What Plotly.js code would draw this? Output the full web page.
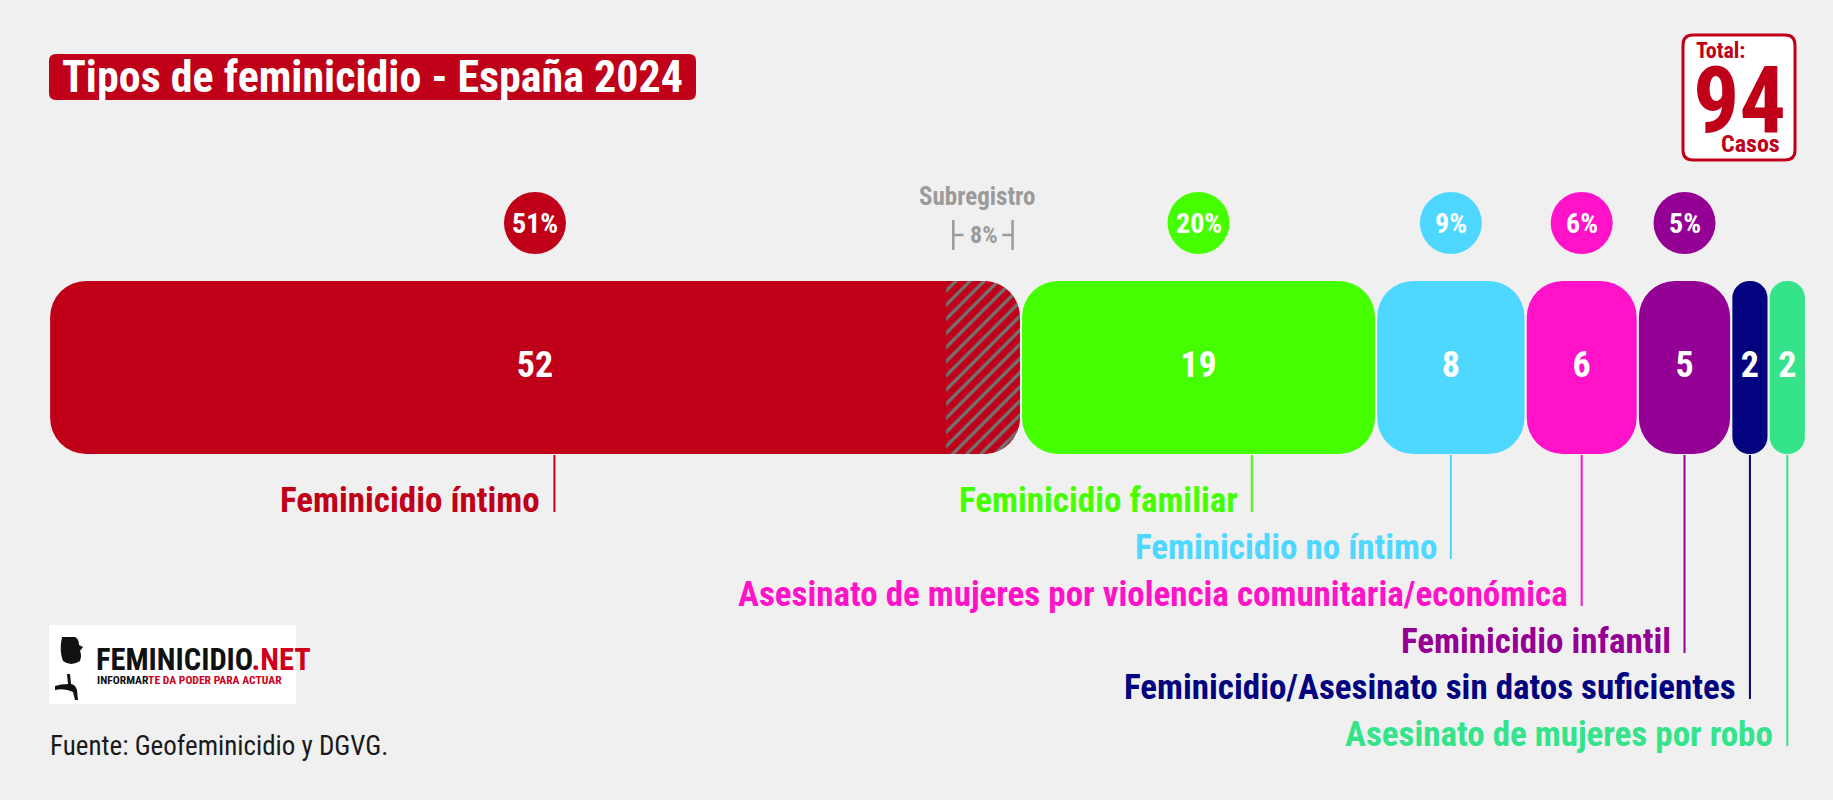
<!DOCTYPE html>
<html><head><meta charset="utf-8">
<script src="https://cdn.plot.ly/plotly-3.0.1.min.js"></script>
<style>html,body{margin:0;padding:0;background:#f0f0f0;}</style>
</head><body><div id="chart" style="width:1833px;height:800px;"></div>
<script>
// ---------- DATA ----------
const categories = ['Feminicidio íntimo', 'Feminicidio familiar', 'Feminicidio no íntimo',
  'Asesinato de mujeres por violencia comunitaria/económica', 'Feminicidio infantil',
  'Feminicidio/Asesinato sin datos suficientes', 'Asesinato de mujeres por robo'];
const values = [52, 19, 8, 6, 5, 2, 2];
const percents = [51, 20, 9, 6, 5, null, null];
const subregistroCount = 4;      // hatched part of "Feminicidio íntimo"
const subregistroPct = 8;
const total = 94;
const chartTitle = 'Tipos de feminicidio - España 2024';
const subregistroLabel = 'Subregistro';
const sourceText = 'Fuente: Geofeminicidio y DGVG.';

// ---------- STYLE ----------
const colors = ['#c00018', '#45ff00', '#4fd8ff', '#ff12c8', '#930093', '#03037f', '#35e38b'];
const leaderFrac = [0.52, 0.65, 0.5, 0.5, 0.5, 0.5, 0.5];
const labelRowPx = [500, 500, 547, 594, 641, 687, 734];
const W = 1833, H = 800;
const PLOT_L = 49, PLOT_R = 1806;
const BAR_TOP = 281, BAR_BOT = 454;
const COND = '"Roboto Condensed", "Open Sans", sans-serif';
const GAP = 0.06, RMAX = 36;
const pxPerUnit = (PLOT_R - PLOT_L) / total;
const unit = BAR_BOT - BAR_TOP;
const ymax = ((BAR_TOP + BAR_BOT) / 2) / unit;
const ymin = ymax - H / unit;
const px = x => x / W;
const py = y => 1 - y / H;

// ---------- TRACES ----------
const traces = [];
const starts = [];
let acc = 0;
values.forEach(v => { starts.push(acc); acc += v; });

values.forEach((v, i) => {
  const len = v - 2 * GAP;
  const r = Math.min(RMAX, (len * pxPerUnit) / 2 - 0.5);
  traces.push({type: 'bar', orientation: 'h', y: [0], x: [len], base: [starts[i] + GAP], width: [1],
    marker: {color: colors[i], cornerradius: r, line: {width: 0}},
    hoverinfo: 'skip', showlegend: false});
});

// hatched "subregistro" part, on an axis whose zero sits where the hatch begins
const split = starts[0] + values[0] - subregistroCount;
traces.push({type: 'bar', orientation: 'h', xaxis: 'x2', y: [0], x: [subregistroCount - GAP], width: [1],
  marker: {color: colors[0], cornerradius: RMAX, line: {width: 0},
    pattern: {shape: '/', bgcolor: colors[0], fgcolor: '#727272', size: 10, solidity: 0.33}},
  hoverinfo: 'skip', showlegend: false});

// numbers inside bars
const textX = [], textT = [];
values.forEach((v, i) => { textX.push(starts[i] + v / 2); textT.push(String(v)); });
textX.push(split + subregistroCount / 2); textT.push(String(subregistroCount));
traces.push({type: 'scatter', mode: 'text', x: textX, y: textX.map(() => 0), text: textT,
  textposition: 'middle center', cliponaxis: false, hoverinfo: 'skip', showlegend: false,
  textfont: {family: COND, size: 36, color: '#ffffff', weight: 'bold'}});

// ---------- SHAPES & ANNOTATIONS ----------
const shapes = [], ann = [];

function roundRect(cx, cy, w, h, r, fill, line) {
  const a = w / 2, b = h / 2;
  const p = `M ${-a + r},${-b} L ${a - r},${-b} Q ${a},${-b} ${a},${-b + r} L ${a},${b - r} Q ${a},${b} ${a - r},${b} ` +
    `L ${-a + r},${b} Q ${-a},${b} ${-a},${b - r} L ${-a},${-b + r} Q ${-a},${-b} ${-a + r},${-b} Z`;
  shapes.push({type: 'path', xref: 'paper', yref: 'paper', xsizemode: 'pixel', ysizemode: 'pixel',
    xanchor: px(cx), yanchor: py(cy), path: p, fillcolor: fill,
    line: line || {width: 0}, layer: 'below'});
}
function text(x, y, t, size, color, opts) {
  ann.push(Object.assign({xref: 'paper', yref: 'paper', x: px(x), y: py(y), text: t, showarrow: false,
    xanchor: 'center', yanchor: 'middle',
    font: {family: COND, size: size, color: color, weight: 'bold'}}, opts || {}));
}

// title box
roundRect(372.5, 77, 647, 46, 7, colors[0]);
text(372.5, 77, chartTitle, 44, '#ffffff');

// total box
roundRect(1739, 97.5, 112, 125, 10, '#ffffff', {color: colors[0], width: 3});
text(1720, 51, 'Total:', 22, colors[0]);
text(1739, 100, String(total), 92, colors[0]);
text(1750, 144, 'Casos', 24, colors[0]);

// percentage circles
percents.forEach((p, i) => {
  if (p === null) return;
  const cx = starts[i] + values[i] / 2;
  shapes.push({type: 'circle', xref: 'x', yref: 'paper', xsizemode: 'pixel', ysizemode: 'pixel',
    xanchor: cx, yanchor: py(223), x0: -31, x1: 31, y0: -31, y1: 31,
    fillcolor: colors[i], line: {width: 0}});
  ann.push({xref: 'x', yref: 'paper', x: cx, y: py(223), text: p + '%', showarrow: false,
    xanchor: 'center', yanchor: 'middle',
    font: {family: COND, size: 28, color: '#ffffff', weight: 'bold'}});
});

// subregistro bracket
const subE = starts[0] + values[0];
const subMid = (split + subE) / 2;
const gray = '#9b9b9b';
ann.push({xref: 'x', yref: 'paper', x: subMid, y: py(196), text: subregistroLabel, showarrow: false,
  xanchor: 'center', yanchor: 'middle', xshift: -7,
  font: {family: COND, size: 25, color: gray, weight: 'bold'}});
ann.push({xref: 'x', yref: 'paper', x: subMid, y: py(235), text: subregistroPct + '%', showarrow: false,
  xanchor: 'center', yanchor: 'middle', font: {family: COND, size: 24, color: gray, weight: 'bold'}});
const bl = split + 0.38, br = subE - 0.45;
[[bl, bl, 220, 250], [br, br, 220, 250], [bl, bl + 0.55, 235, 235], [br - 0.55, br, 235, 235]].forEach(c => {
  shapes.push({type: 'line', xref: 'x', yref: 'paper', x0: c[0], x1: c[1], y0: py(c[2]), y1: py(c[3]),
    line: {color: gray, width: 2.5}});
});

// leader lines and labels
categories.forEach((c, i) => {
  const lx = starts[i] + values[i] * leaderFrac[i];
  shapes.push({type: 'line', xref: 'x', yref: 'paper', x0: lx, x1: lx, y0: py(BAR_BOT + 1), y1: py(labelRowPx[i] + 12),
    line: {color: colors[i], width: 2}});
  ann.push({xref: 'x', yref: 'paper', x: lx, y: py(labelRowPx[i]), text: c, showarrow: false,
    xanchor: 'right', yanchor: 'middle', xshift: -12,
    font: {family: COND, size: 35, color: colors[i], weight: 'bold'}});
});

// logo block
shapes.push({type: 'rect', xref: 'paper', yref: 'paper', x0: px(49), x1: px(296), y0: py(625), y1: py(704),
  fillcolor: '#ffffff', line: {width: 0}, layer: 'below'});
shapes.push({type: 'path', xref: 'paper', yref: 'paper', xsizemode: 'pixel', ysizemode: 'pixel',
  xanchor: px(71), yanchor: py(651),
  path: 'M -9,14 Q -12,0 -8,-10 Q 0,-16 9,-10 Q 11,-4 9,0 L 12,4 L 8,6 Q 8,12 4,14 Z',
  fillcolor: '#111111', line: {width: 0}});
shapes.push({type: 'path', xref: 'paper', yref: 'paper', xsizemode: 'pixel', ysizemode: 'pixel',
  xanchor: px(69), yanchor: py(686),
  path: 'M -14,-4 Q -4,-2 4,-6 L 6,-14 L 9,-14 L 8,-4 Q 6,2 2,2 L 1,12 L -2,12 L -1,2 Q -8,2 -14,0 Z',
  fillcolor: '#111111', line: {width: 0}});
text(94, 659, 'FEMINICIDIO<span style="color:#d0001a">.NET</span>', 30.5, '#111111', {xanchor: 'left'});
text(95, 680, 'INFORMAR<span style="color:#d0001a">TE DA PODER PARA ACTUAR</span>', 11.6, '#111111', {xanchor: 'left'});

// source
ann.push({xref: 'paper', yref: 'paper', x: px(48), y: py(746), text: sourceText, showarrow: false,
  xanchor: 'left', yanchor: 'middle', font: {family: COND, size: 27, color: '#1a1a1a'}});

const layout = {
  width: W, height: H, margin: {l: 0, r: 0, t: 0, b: 0, pad: 0},
  paper_bgcolor: '#f0f0f0', plot_bgcolor: 'rgba(0,0,0,0)',
  barmode: 'overlay', showlegend: false,
  xaxis: {domain: [px(PLOT_L), px(PLOT_R)], range: [0, total], visible: false, fixedrange: true},
  xaxis2: {overlaying: 'x', domain: [px(PLOT_L), px(PLOT_R)], range: [-split, total - split],
    visible: false, fixedrange: true},
  yaxis: {domain: [0, 1], range: [ymin, ymax], visible: false, fixedrange: true},
  shapes: shapes, annotations: ann
};
Plotly.newPlot('chart', traces, layout, {displayModeBar: false, staticPlot: true});
</script>
</body></html>
